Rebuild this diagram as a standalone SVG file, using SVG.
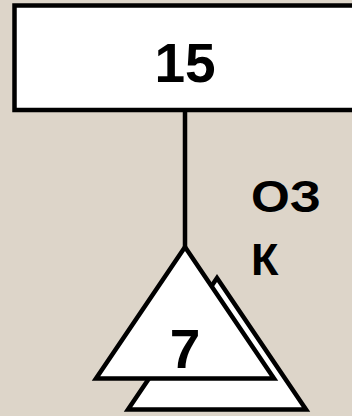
<svg xmlns="http://www.w3.org/2000/svg" width="352" height="416" viewBox="0 0 352 416">
  <style>
    .box { fill: #ffffff; stroke: #000000; stroke-width: 4.5; stroke-linejoin: miter; }
    .tri { fill: #ffffff; stroke: #000000; stroke-width: 4.5; stroke-linejoin: miter; }
    .num { font-family: "Liberation Sans", Arial, sans-serif; font-weight: bold; font-size: 55px; fill: #000000; text-anchor: middle; }
    .lbl { font-family: "Liberation Sans", Arial, sans-serif; font-weight: bold; font-size: 45px; fill: #000000; }
    .conn { stroke: #000000; stroke-width: 4.5; fill: none; }
  </style>
  <rect x="0" y="0" width="352" height="416" fill="#ddd5c9"/>
  <g id="connectors">
    <line class="conn" x1="185" y1="110" x2="185" y2="247"/>
  </g>
  <g id="node-15">
    <rect class="box" x="14.5" y="5.5" width="350" height="104.5"/>
    <text class="num" x="185" y="82">15</text>
  </g>
  <g id="node-7">
    <polygon class="tri" points="217,278 306,409.5 128,409.5"/>
    <polygon class="tri" points="185,247 274,378.5 96,378.5"/>
    <text class="num" x="185" y="368">7</text>
  </g>
  <g id="label-ozk">
    <text class="lbl" x="251" y="212" textLength="70" lengthAdjust="spacingAndGlyphs">ОЗ</text>
    <text class="lbl" x="251" y="275">К</text>
  </g>
</svg>
